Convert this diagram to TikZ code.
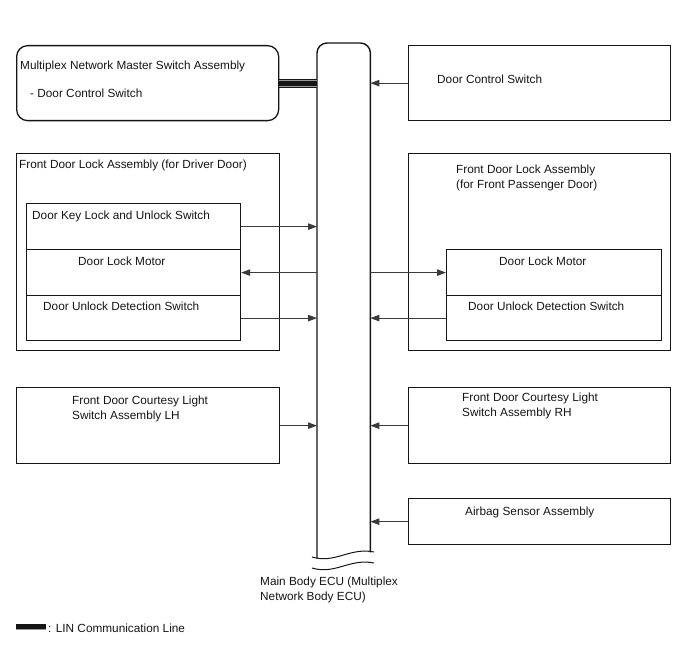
\documentclass[tikz,border=0pt]{standalone}
\usepackage{fontspec}
\setmainfont{Liberation Sans}
\usetikzlibrary{arrows.meta,positioning,calc}
\definecolor{ink}{HTML}{151515}
\definecolor{wire}{HTML}{3A3A3A}
\definecolor{linhl}{HTML}{9A9A9A}
\tikzset{
  box/.style={draw=ink, line width=1.3pt, anchor=north west, inner sep=0pt},
  roundbox/.style={box, rounded corners=11pt},
  rowbox/.style={box, line width=1.2pt, minimum width=214pt},
  ecubar/.style={anchor=north west, inner sep=0pt, minimum width=53pt, minimum height=512pt},
  txt/.style={anchor=base west, inner sep=0pt, align=left, text=ink,
              font=\fontsize{11.8}{15}\selectfont},
  ar/.style={-{Triangle[length=9pt,width=6.5pt]}, line width=0.9pt, draw=wire},
  lin/.style={line width=9pt, draw=ink},
  linhi/.style={line width=0.9pt, draw=linhl},
  wave/.style={line width=1pt, draw=ink}
}
\begin{document}
\begin{tikzpicture}[x=1pt,y=-1pt]
  \useasboundingbox (0,0) rectangle (688,658);

  % main body ecu
  \node[ecubar] (ecu) at (317,43) {};
  \draw[line width=1.4pt, draw=ink, rounded corners=10pt]
    ([yshift=-3pt]ecu.south west) -- (ecu.north west) -- (ecu.north east) -- ([yshift=3pt]ecu.south east);
  \draw[wave] (312,557) .. controls (335,564) and (350,547) .. (374,552);
  \draw[wave] (312,568) .. controls (335,575) and (350,558) .. (374,563);
  \node[txt] (ecutxt) at (260,600) {Main Body ECU (Multiplex\\Network Body ECU)};

  % left column
  \node[roundbox, minimum width=262pt, minimum height=75pt] (master) at (16,45) {};
  \node[txt] (mastertxt) at (20,70) {Multiplex Network Master Switch Assembly};
  \node[txt] (mastersub) at (30,98) {- Door Control Switch};

  \node[box, minimum width=263pt, minimum height=197pt] (lockL) at (16,153) {};
  \node[txt] (lockLtxt) at (19,168) {Front Door Lock Assembly (for Driver Door)};
  \node[rowbox, minimum height=46pt] (keysw) at (26,203) {};
  \node[rowbox, minimum height=46pt] (motorL) at (26,249) {};
  \node[rowbox, minimum height=45pt] (unlockL) at (26,295) {};
  \node[txt] (keyswtxt) at (32,219) {Door Key Lock and Unlock Switch};
  \node[txt] (motorLtxt) at (78,265) {Door Lock Motor};
  \node[txt] (unlockLtxt) at (43,310) {Door Unlock Detection Switch};

  \node[box, minimum width=263pt, minimum height=76pt] (courtL) at (16,387) {};
  \node[txt] (courtLtxt) at (72,419) {Front Door Courtesy Light\\Switch Assembly LH};

  % right column
  \node[box, minimum width=262pt, minimum height=75pt] (dcs) at (408,45) {};
  \node[txt] (dcstxt) at (437,84) {Door Control Switch};

  \node[box, minimum width=262pt, minimum height=197pt] (lockR) at (408,153) {};
  \node[txt] (lockRtxt) at (456,188) {Front Door Lock Assembly\\(for Front Passenger Door)};
  \node[rowbox, minimum width=215pt, minimum height=46pt] (motorR) at (446,249) {};
  \node[rowbox, minimum width=215pt, minimum height=45pt] (unlockR) at (446,295) {};
  \node[txt] (motorRtxt) at (499,265) {Door Lock Motor};
  \node[txt] (unlockRtxt) at (468,310) {Door Unlock Detection Switch};

  \node[box, minimum width=262pt, minimum height=76pt] (courtR) at (408,387) {};
  \node[txt] (courtRtxt) at (462,416) {Front Door Courtesy Light\\Switch Assembly RH};

  \node[box, minimum width=262pt, minimum height=46pt] (airbag) at (408,498) {};
  \node[txt] (airbagtxt) at (465,515) {Airbag Sensor Assembly};

  % lin line
  \draw[lin] (master.east) -- (master.east -| ecu.west);
  \draw[linhi] ([yshift=2.6pt]master.east) -- ([yshift=2.6pt]master.east -| ecu.west);
  \draw[linhi] ([yshift=-3.2pt]master.east) -- ([yshift=-3.2pt]master.east -| ecu.west);

  % signals
  \draw[ar] (dcs.west) -- (dcs.west -| ecu.east);
  \draw[ar] (keysw.east) -- (keysw.east -| ecu.west);
  \draw[ar] (motorL.east -| ecu.west) -- (motorL.east);
  \draw[ar] (unlockL.east) -- (unlockL.east -| ecu.west);
  \draw[ar] (motorR.west -| ecu.east) -- (motorR.west);
  \draw[ar] (unlockR.west) -- (unlockR.west -| ecu.east);
  \draw[ar] (courtL.east) -- (courtL.east -| ecu.west);
  \draw[ar] (courtR.west) -- (courtR.west -| ecu.east);
  \draw[ar] (airbag.west) -- (airbag.west -| ecu.east);

  % legend
  \coordinate (legA) at (16,627);
  \coordinate (legB) at (46,627);
  \draw[lin, line width=6pt] (legA) -- (legB);
  \draw[linhi] ([yshift=-2.2pt]legA) -- ([yshift=-2.2pt]legB);
  \node[txt] (legtxt) at (48,632) {: LIN Communication Line};
\end{tikzpicture}
\end{document}
